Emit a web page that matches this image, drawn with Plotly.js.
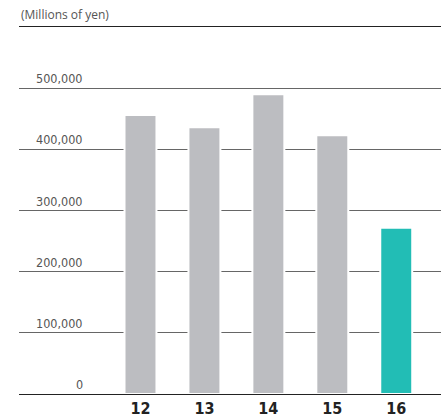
<!DOCTYPE html>
<html>
<head>
<meta charset="utf-8">
<script src="https://cdn.plot.ly/plotly-3.0.1.min.js"></script>
<style>html,body{margin:0;padding:0;background:#fff;}#chart{width:441px;height:418px;}</style>
</head>
<body>
<div id="chart"></div>
<script>
const years = ["12", "13", "14", "15", "16"];
const values = [456000, 436000, 490000, 423000, 272000];
const barColors = ["#bcbdc1", "#bcbdc1", "#bcbdc1", "#bcbdc1", "#22bdb5"];
const tickVals = [0, 100000, 200000, 300000, 400000, 500000];
const tickText = ["0", "100,000", "200,000", "300,000", "400,000", "500,000"];
const unitLabel = "(Millions of yen)";

const W = 441, L = 19, R = 0;
const plotW = W - L - R;
const labelRightPx = 85;

const annotations = tickVals.map((v, i) => ({
  x: (labelRightPx - L) / plotW, xref: "paper", xanchor: "right",
  y: v, yref: "y", yanchor: "bottom", yshift: 0,
  text: tickText[i], showarrow: false,
  font: {family: "DejaVu Sans Condensed, DejaVu Sans", size: 12.5, color: "#555"}
}));
annotations.push({
  x: 0, xref: "paper", xanchor: "left",
  y: 1, yref: "paper", yanchor: "bottom", yshift: 2,
  text: unitLabel, showarrow: false,
  font: {family: "Open Sans", size: 12, color: "#555"}
});

Plotly.newPlot("chart", [{
  type: "bar",
  x: years,
  y: values,
  width: 0.5,
  marker: {color: barColors, line: {color: "#ffffff", width: 2}},
  hoverinfo: "none"
}], {
  width: 441, height: 418,
  margin: {l: L, r: R, t: 27, b: 24, pad: 0},
  paper_bgcolor: "#fff", plot_bgcolor: "#fff",
  showlegend: false,
  xaxis: {
    type: "category",
    range: [-1.9, 4.7],
    showgrid: false, zeroline: false,
    showline: true, mirror: true, linecolor: "#222", linewidth: 1,
    ticks: "", ticklabelstandoff: 0,
    tickfont: {family: "Liberation Sans Narrow, DejaVu Sans Condensed", size: 16, color: "#222", weight: "bold"}
  },
  yaxis: {
    range: [0, 600000],
    tickvals: tickVals, showticklabels: false,
    showgrid: true, gridcolor: "#666", gridwidth: 1,
    zeroline: false, showline: false, ticks: ""
  },
  annotations: annotations
}, {displayModeBar: false, staticPlot: true});
</script>
</body>
</html>
